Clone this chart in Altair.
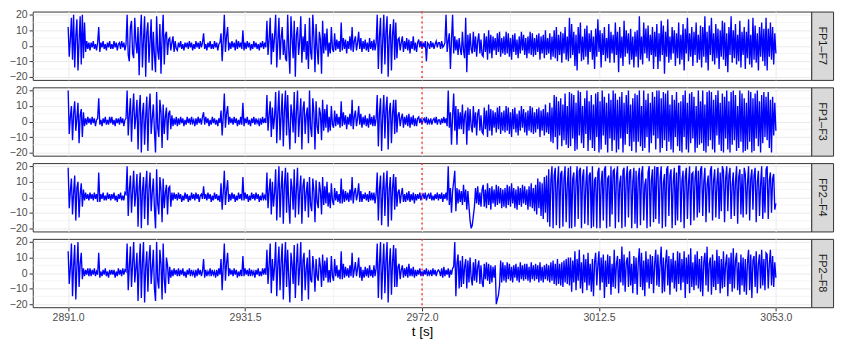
import altair as alt
import pandas as pd

CHANNELS = ["FP1–F7", "FP1–F3", "FP2–F4", "FP2–F8"]
T_START = 2891.0
T_STEP = 0.25
X_TICKS = [2891.0, 2931.5, 2972.0, 3012.5, 3053.0]
Y_TICKS = [-20, -10, 0, 10, 20]
MARKER_T = [2972.0]

FP1_F7 = [
    12, -7, 4, 18, -9, 20, -14, 6, 17, -16, 3, 19, -12, 20, -8, 15, -4, 3, -2, 2,
    -3, 2, -1, 3, -2, 1, -3, 2, 12, -4, 2, -1, 3, -2, 1, -3, 2, -1, 3, -2,
    1, -2, 3, -1, 2, -3, 1, 2, -2, 3, -1, 2, -3, 1, 20, -6, -10, 12, 16, -5,
    -8, 18, 2, -5, 12, -19, 6, 20, -14, 4, 19, -20, 8, 15, -11, 3, 17, -16, 9, -6,
    -17, 19, -3, -9, 14, -18, 5, 20, -12, 7, 9, -6, 4, 5, -3, 2, 6, -4, 3, -2,
    -3, 2, -1, 3, -2, 1, -3, 2, -1, 2, -2, 3, -1, 2, -3, 1, -2, 3, -1, 2,
    -2, 3, -1, 2, 8, -2, 1, -3, 2, -1, 3, -2, 1, -2, 3, -1, 2, -3, 1, 2,
    8, -10, 3, 20, -4, 6, 12, -3, 2, -2, 3, -1, 2, -3, 4, -2, 3, -1, 2, -2,
    10, -3, 2, -2, 3, -1, 2, -3, 1, -2, 3, -1, 2, -2, 1, -3, 2, -1, 3, -2,
    2, -1, 16, -6, 4, 18, -12, 8, -4, 6, 20, -14, 3, 18, -9, 5, 12, -6, 4, -8,
    -10, 20, -3, -18, 19, 5, -8, 16, -20, 7, 12, -6, 3, 19, -11, 6, -4, 14, -9, 3,
    -15, 18, -4, -9, 20, 6, -17, 14, -2, -12, 9, 4, -18, 16, -5, 8, -3, 11, -7, 2,
    -5, 12, -2, -4, 8, -3, 4, -2, 3, -4, 15, -3, 5, -2, 4, -5, 3, -2, 6, -3,
    12, -4, 3, 6, -3, 2, 9, -2, 5, -4, 3, -2, 4, -3, 2, -4, 5, -2, 3, -3,
    4, -3, 2, 20, -15, 6, 18, -18, 3, 20, -12, 9, 19, -20, 5, 14, -16, 7, 17, -9,
    15, -8, 4, 5, -3, 2, 6, -4, 3, -2, 5, -3, 4, -5, 3, -2, 6, -3, 2, -4,
    2, 4, -1, 3, -2, 2, -1, 3, -10, 2, 1, -2, 3, -1, 2, -2, 1, 3, -1, 2,
    2, -2, 3, -1, 0, 2, 20, -4, 3, 8, -15, 4, 20, -5, 6, -3, 4, -6, 5, -2,
    -6, 9, -3, -8, 18, -17, 7, -6, 8, -2, -5, 9, -4, 6, -7, 3, 8, -5, 4, -6,
    -7, 8, -4, 6, -9, 10, -5, 7, -8, 6, -3, 5, -6, 8, -4, 9, -7, 5, -5, 6,
    -6, 9, -5, 8, -7, 5, -9, 7, -4, 8, -6, 4, -8, 6, -5, 9, -3, 7, -6, 5,
    -8, 6, -5, 9, -6, 8, -7, 5, -6, 7, -4, 8, -9, 6, -5, 7, -8, 10, -6, 5,
    -5, 8, -9, 6, -7, 10, -8, 12, -10, 7, -6, 9, -11, 8, -5, 12, -9, 6, -10, 18,
    -8, 14, -6, 9, -13, 7, -16, 12, -5, 15, -10, 6, -9, 11, -7, 13, -12, 8, -4, 10,
    -9, 6, -15, 11, -7, 17, -4, 10, -14, 8, -6, 12, -10, 5, -8, 14, -11, 9, -5, 7,
    -11, 15, -6, 9, -17, 12, -8, 6, -13, 16, -7, 10, -5, 8, -12, 11, -9, 6, -14, 9,
    -7, 10, -14, 19, -9, 6, -12, 15, -5, 11, -8, 13, -10, 7, -6, 12, -15, 9, -7, 14,
    -15, 8, -10, 16, -6, 13, -18, 9, -7, 17, -11, 6, -9, 12, -5, 10, -13, 8, -8, 15,
    -12, 7, -9, 14, -16, 11, -5, 18, -10, 8, -7, 12, -13, 9, -6, 15, -11, 7, -9, 13,
    -14, 12, -7, 19, -11, 9, -16, 13, -6, 18, -10, 8, -12, 14, -8, 11, -15, 10, -7, 16,
    -9, 15, -13, 8, -17, 12, -6, 19, -11, 10, -8, 14, -12, 7, -10, 16, -14, 9, -6, 12,
    -15, 9, -8, 17, -12, 7, -14, 18, -9, 13, -11, 8, -16, 12, -7, 15, -10, 11, -13, 18,
    -16, 11, -7, 15, -9, 12, -12, 8, -5,
]

FP1_F3 = [
    20, -8, 3, 10, -12, 5, 13, -6, 2, 12, -14, 4, 8, -10, 6, -3, 2, -2, 3, -1,
    2, -2, 3, -1, 2, -3, 1, 2, 15, -2, 1, -3, 2, -1, 3, -2, 1, -2, 3, -1,
    3, -2, 1, -3, 2, -1, 2, -2, 3, -1, 2, -3, 1, 2, 20, -9, 4, 15, -13, 6,
    18, -5, 3, 14, -18, 7, 17, -20, 5, 12, -15, 3, 16, -19, 8, 18, -8, 2, 11, -6,
    -20, 19, -4, -10, 14, 6, -17, 11, -8, 3, 9, -12, 5, 7, -5, 4, -3, 2, -2, 3,
    -3, 2, -2, 3, -1, 2, -3, 1, -2, 3, -1, 2, -2, 3, -1, 1, -3, 2, -2, 3,
    -1, 2, -2, 3, 6, -2, 3, -1, 2, -3, 1, -2, 3, -1, 2, -2, 1, -3, 2, -1,
    7, -9, 3, 18, -4, 5, 10, -2, 3, -1, 2, -2, 3, -1, 2, -3, 1, -2, 3, -2,
    12, -3, 2, -1, 3, -2, 1, -3, 2, -1, 3, -2, 2, -1, 1, -3, 2, -2, 3, -1,
    2, -1, 17, -6, 4, 13, -10, 9, -5, 3, 19, -14, 6, 20, -12, 4, 18, -16, 7, 20,
    -9, 17, -3, -18, 11, 5, -7, 19, -14, 6, 20, -10, 3, 15, -18, 8, 13, -8, 4, 9,
    -14, 20, -4, -10, 15, 6, -18, 13, -3, -8, 9, 5, -12, 14, -6, 8, -4, 11, -7, 3,
    -6, 10, -2, -4, 7, -3, 5, -2, 3, -4, 13, -3, 6, -2, 4, -5, 3, -2, 5, -3,
    14, -5, 3, 7, -3, 2, 10, -2, 5, -4, 3, -2, 4, -3, 2, -4, 5, -2, 3, -3,
    4, -3, 2, 17, -16, 5, 15, -19, 4, 17, -11, 8, 16, -18, 6, 12, -14, 5, 14, -8,
    14, -7, 4, 6, -3, 2, 5, -4, 3, -2, 4, -3, 5, -4, 3, -2, 4, -3, 2, -3,
    2, 3, -1, 2, -2, 1, 2, -1, 3, -2, 1, -1, 2, -2, 1, 2, -1, 3, -2, 1,
    1, -2, 2, -1, 3, -1, 2, -3, 20, -4, 6, -15, 4, 18, -6, 10, -15, 8, -5, 6,
    -5, 11, -8, 4, 7, -15, 9, -6, 8, -3, -7, 10, -4, 6, -9, 5, 8, -6, 4, -7,
    -8, 9, -5, 7, -10, 11, -6, 8, -9, 7, -4, 6, -7, 9, -5, 10, -8, 6, -6, 7,
    -7, 10, -6, 9, -8, 6, -10, 8, -5, 9, -7, 5, -9, 7, -6, 10, -4, 8, -7, 6,
    -9, 7, -6, 10, -7, 9, -8, 6, -7, 8, -5, 9, -10, 7, -6, 8, -9, 11, -7, 6,
    -8, 12, -13, 9, -14, 17, -10, 16, -18, 13, -9, 15, -16, 11, -12, 18, -15, 10, -17, 19,
    -16, 18, -11, 17, -19, 12, -18, 20, -9, 19, -14, 10, -17, 15, -8, 20, -19, 13, -12, 17,
    -17, 11, -19, 18, -10, 19, -20, 13, -18, 20, -9, 16, -15, 12, -20, 18, -11, 14, -19, 20,
    -12, 18, -20, 14, -18, 16, -11, 19, -20, 12, -15, 17, -8, 20, -16, 11, -19, 15, -13, 18,
    -20, 17, -13, 20, -16, 10, -19, 20, -17, 14, -10, 18, -20, 12, -14, 19, -9, 16, -18, 20,
    -11, 20, -20, 15, -17, 19, -12, 18, -19, 20, -13, 11, -18, 17, -20, 14, -10, 19, -16, 12,
    -19, 13, -20, 17, -10, 20, -18, 12, -20, 18, -14, 19, -11, 16, -20, 10, -17, 20, -15, 13,
    -14, 20, -19, 11, -20, 19, -16, 20, -12, 19, -18, 14, -20, 17, -9, 20, -15, 12, -19, 18,
    -20, 16, -11, 20, -18, 13, -20, 19, -15, 20, -12, 17, -19, 10, -17, 20, -13, 18, -20, 15,
    -19, 12, -18, 20, -13, 19, -20, 15, -19, 18, -11, 20, -16, 13, -20, 17, -14, 19, -10, 16,
    -12, 19, -17, 14, -20, 16, -9, 12, -6,
]

FP2_F4 = [
    19, -7, 4, 12, -11, 3, 14, -15, 6, 10, -13, 2, 9, -6, 5, -2, 3, -1, 2, -2,
    3, -1, 2, -2, 3, -1, 2, -3, 16, -3, 2, -1, 3, -2, 1, -2, 3, -1, 2, -2,
    2, -1, 3, -2, 1, -3, 2, -1, 3, -2, 1, -2, 3, 2, 20, -12, 5, 14, -10, 4,
    17, -6, 3, 15, -19, 6, 16, -20, 4, 13, -14, 7, 17, -18, 5, 16, -9, 3, 12, -7,
    -20, 18, -4, -11, 13, 5, -16, 12, -7, 3, 8, -11, 6, 7, -6, 3, -2, 3, -1, 2,
    -2, 3, -1, 2, -3, 1, -2, 3, -1, 2, -3, 1, -2, 3, -1, 2, -2, 3, -1, 2,
    -3, 1, 2, -1, 7, -1, 2, -2, 3, -1, 2, -3, 1, -2, 3, -1, 2, -2, 1, -3,
    9, -8, 3, 17, -5, 4, 11, -3, 2, -2, 3, -1, 2, -3, 1, -2, 3, -1, 2, -2,
    13, -2, 3, -1, 2, -3, 1, -2, 3, -1, 2, -2, 3, -1, 2, -3, 1, -2, 3, -1,
    1, -2, 16, -7, 4, 12, -11, 10, -6, 3, 18, -15, 5, 20, -13, 6, 17, -17, 8, 19,
    -10, 16, -4, -17, 12, 6, -8, 18, -13, 5, 19, -11, 4, 14, -17, 7, 12, -9, 3, 10,
    -13, 13, -5, -9, 12, 4, -16, 11, -3, -7, 10, 4, -11, 13, -5, 7, -4, 10, -6, 3,
    -7, 9, -2, -5, 6, -2, 4, -3, 2, -4, 12, -4, 5, -3, 4, -2, 3, -3, 5, -2,
    13, -4, 3, 6, -2, 2, 9, -3, 4, -3, 2, -1, 3, -2, 2, -3, 4, -2, 3, -2,
    3, -4, 2, 16, -15, 5, 14, -18, 4, 16, -12, 7, 17, -19, 5, 13, -15, 6, 15, -8,
    13, -6, 3, 5, -4, 2, 6, -3, 2, -3, 3, -2, 4, -3, 2, -2, 3, -4, 2, -2,
    2, -1, 3, -2, 1, 2, -1, 3, -2, 1, 2, -1, 3, -2, 1, -2, 2, -1, 3, -2,
    2, -1, 3, -3, 2, -1, 3, -2, 20, -5, 6, -10, 4, 10, 17, -9, 6, -4, 5, -3,
    4, -5, 8, -3, 5, -8, 4, -6, -15, -20, -18, -12, -6, 6, -4, 7, -5, 3, -6, 5,
    8, -6, 5, -7, 9, -5, 6, -8, 7, -4, 5, -6, 8, -5, 7, -4, 6, -7, 5, -6,
    6, -7, 8, -5, 7, -6, 9, -4, 6, -7, 5, -8, 7, -5, 6, -6, 8, -4, 7, -5,
    5, -8, 7, -6, 9, -7, 6, -9, 8, -11, 12, -7, 10, -12, 9, -14, 13, -10, 14, -16,
    18, -19, 11, 20, -20, 14, 19, -18, 9, 20, -20, 15, 17, -19, 12, 20, -16, 8, 19, -20,
    20, -20, 12, 16, -19, 10, 20, -14, 17, 19, -20, 13, 18, -17, 8, 20, -18, 14, 16, -20,
    20, -19, 11, 13, -20, 16, 19, -20, 9, 17, -15, 18, 20, -20, 12, 14, -19, 20, -11, 17,
    18, -20, 14, 20, -16, 9, 14, -20, 17, 19, -19, 12, 20, -13, 16, 18, -20, 10, 19, -17,
    17, -20, 13, 19, -18, 15, 20, -15, 8, 12, -20, 16, 20, -19, 11, 18, -16, 20, -14, 19,
    19, -17, 12, 20, -20, 9, 15, -19, 18, 20, -12, 14, 18, -20, 10, 19, -18, 16, -15, 20,
    20, -16, 11, 17, -20, 13, 19, -14, 9, 20, -18, 15, 16, -15, 12, 20, -13, 17, -10, 18,
    20, -12, 10, 19, -16, 8, 14, -10, 17, 20, -15, 11, 18, -13, 9, 19, -14, 16, -9, 20,
    17, -16, 12, 20, -9, 14, 19, -14, 8, 16, -12, 10, 20, -17, 13, 18, -11, 15, -13, 19,
    15, -11, 9, 20, -15, 12, 18, -8, 14, 19, -16, 10, 17, -12, 8, 20, -14, 13, -10, 18,
    20, -14, 11, 16, -10, 12, 15, -8, -4,
]

FP2_F8 = [
    14, -7, 3, 19, -15, 5, 18, -17, 4, 20, -9, 6, 13, -4, 3, -2, 2, -1, 3, -2,
    3, -2, 2, -1, 3, -2, 1, -1, 13, -3, 1, -2, 2, -1, 3, -2, 1, -3, 2, -1,
    2, -1, 2, -3, 1, -2, 3, -1, 2, -2, 3, -1, 2, 1, 19, -11, 4, 17, -9, 6,
    20, -6, 3, 13, -18, 5, 19, -16, 7, 20, -19, 4, 14, -12, 8, 18, -7, 3, 15, -10,
    -18, 20, -5, -10, 15, 6, -17, 19, -4, -13, 10, 5, -7, 4, -3, 2, -2, 3, -1, 2,
    -2, 3, -2, 2, -1, 3, -2, 1, -3, 2, -1, 3, -2, 2, -1, 1, -3, 2, -2, 3,
    -1, 2, -2, 1, 9, -3, 2, -2, 1, -1, 3, -2, 2, -1, 1, -3, 2, -2, 3, -1,
    9, -11, 4, 19, -5, 6, 13, -2, 3, -1, 2, -2, 3, -1, 2, -3, 1, -2, 2, -2,
    11, -2, 3, -1, 2, -2, 3, -2, 2, -1, 1, -3, 2, -1, 3, -2, 1, -2, 3, -1,
    3, -1, 15, -7, 5, 19, -13, 9, -5, 4, 20, -15, 6, 17, -11, 7, 19, -17, 5, 20,
    -9, 15, -3, -19, 13, 6, -7, 18, -16, 5, 19, -8, 4, 20, -18, 8, 13, -11, 3, 10,
    -17, 15, -4, -6, 11, 3, -12, 9, -2, -5, 10, 4, -9, 12, -5, 8, -3, 10, -6, 2,
    -6, 11, -2, -5, 9, -2, 5, -3, 2, -4, 14, -4, 6, -3, 4, -2, 3, -3, 5, -2,
    13, -3, 2, 7, -2, 3, 10, -3, 4, -5, 2, -3, 4, -2, 3, -3, 5, -2, 2, -3,
    5, -2, 3, 19, -16, 6, 20, -17, 4, 19, -13, 8, 20, -19, 5, 16, -14, 7, 18, -9,
    16, -9, 4, 6, -4, 2, 5, -3, 3, -2, 4, -3, 6, -2, 3, -2, 4, -3, 2, -2,
    2, -1, 3, -2, 1, -2, 2, -1, 3, -2, 1, -1, 2, -2, 3, -1, 2, -2, 1, 2,
    1, -2, 3, -3, 4, -2, 2, -1, 3, -3, 2, -1, 3, 4, 20, -15, 6, 12, -10, 8,
    -9, 11, -7, 4, 9, -10, 8, -6, 10, -3, -8, 7, -5, 9, -6, 4, 8, -7, 5, -6,
    -9, 6, -4, 7, -5, 6, -7, 5, -6, 4, -3, 5, -20, -17, -14, -8, 8, -6, 7, -5,
    5, -6, 7, -4, 6, -5, 4, -6, 5, -3, 6, -5, 4, -6, 7, -4, 5, -5, 6, -4,
    6, -5, 4, -6, 7, -4, 5, -5, 6, -4, 5, -6, 7, -5, 4, -6, 5, -4, 6, -5,
    5, -6, 7, -5, 8, -7, 6, -8, 9, -7, 6, -8, 7, -9, 8, -6, 9, -7, 10, -8,
    10, -12, 8, -6, 14, -11, 9, -5, 15, -10, 7, -13, 12, -6, 9, -11, 13, -8, 6, -12,
    9, -15, 7, 13, -8, 5, 14, -11, 10, -6, 12, -16, 8, -9, 12, -7, 11, -14, 6, -9,
    15, -10, 6, 11, -13, 9, -6, 17, -8, 12, -12, 7, 10, -9, 14, -8, 6, -13, 11, -7,
    10, -14, 7, 16, -9, 13, -11, 8, -15, 14, -6, 9, -10, 12, -7, 11, -13, 6, 15, -8,
    12, -9, 6, 17, -13, 10, -12, 7, 15, -8, 11, -14, 9, -6, 13, -10, 8, -12, 14, -7,
    13, -11, 9, -6, 14, -16, 10, -7, 12, -13, 16, -9, 7, -11, 12, -8, 14, -10, 9, -12,
    11, -15, 7, 13, -8, 17, -12, 6, 10, -14, 12, -9, 8, -11, 15, -7, 11, -13, 9, -10,
    14, -9, 6, 12, -15, 10, -7, 13, -12, 16, -10, 8, 13, -11, 7, -14, 12, -8, 10, -12,
    9, -14, 7, 15, -11, 12, -16, 8, 11, -9, 14, -13, 6, 12, -10, 15, -8, 9, -11, 13,
    12, -10, 6, 15, -8, 11, -9, 7, -3,
]

SERIES = [FP1_F7, FP1_F3, FP2_F4, FP2_F8]

FONT = "Liberation Sans"
PANEL_W = 786
PANEL_H = 69
STRIP_W = 22
X_DOMAIN = [X_TICKS[0] - 0.05 * (X_TICKS[-1] - X_TICKS[0]),
            X_TICKS[-1] + 0.05 * (X_TICKS[-1] - X_TICKS[0])]
Y_DOMAIN = [-22, 22]
MINOR_X = [(a + b) / 2 for a, b in zip(X_TICKS[:-1], X_TICKS[1:])]
MINOR_Y = [(a + b) / 2 for a, b in zip(Y_TICKS[:-1], Y_TICKS[1:])]


def panel(vals, bottom):
    df = pd.DataFrame({"t": [T_START + T_STEP * i for i in range(len(vals))], "v": vals})
    common = dict(values=X_TICKS, grid=True, gridColor="#EBEBEB", gridWidth=1.0,
                  domain=False)
    if bottom:
        xaxis = alt.Axis(format=".1f", title="t [s]", titleFont=FONT, titleFontSize=13.5,
                         titleFontWeight="normal", titleColor="#000000", titlePadding=1,
                         labelFont=FONT, labelFontSize=10.6, labelColor="#4D4D4D",
                         labelPadding=2, tickColor="#333333", tickSize=3.7, tickWidth=1,
                         **common)
    else:
        xaxis = alt.Axis(labels=False, ticks=False, title=None, **common)
    yaxis = alt.Axis(values=Y_TICKS, title=None, grid=True, gridColor="#EBEBEB", gridWidth=1.0,
                     domain=False, labelFont=FONT, labelFontSize=10.6, labelColor="#4D4D4D",
                     labelPadding=2, tickColor="#333333", tickSize=3.7, tickWidth=1)
    X = alt.X("t:Q", scale=alt.Scale(domain=X_DOMAIN, nice=False, zero=False), axis=xaxis)
    Y = alt.Y("v:Q", scale=alt.Scale(domain=Y_DOMAIN, nice=False, zero=False), axis=yaxis)

    minor_x = alt.Chart(pd.DataFrame({"t": MINOR_X})).mark_rule(
        color="#EBEBEB", strokeWidth=0.55).encode(x=X)
    minor_y = alt.Chart(pd.DataFrame({"v": MINOR_Y})).mark_rule(
        color="#EBEBEB", strokeWidth=0.55).encode(y=Y)
    line = alt.Chart(df).mark_line(color="#0000FF", strokeWidth=1.35).encode(x=X, y=Y)
    marker = alt.Chart(pd.DataFrame({"t": MARKER_T})).mark_rule(
        color="#FF0000", strokeDash=[2, 3], strokeWidth=1.1).encode(x=X)
    return alt.layer(minor_x, minor_y, line, marker).properties(width=PANEL_W, height=PANEL_H)


def strip(name):
    return alt.Chart(pd.DataFrame({"ch": [name]})).mark_text(
        angle=90, font=FONT, fontSize=11, color="#1A1A1A", align="center", baseline="middle"
    ).encode(
        text="ch:N", x=alt.value(STRIP_W / 2), y=alt.value(PANEL_H / 2)
    ).properties(
        width=STRIP_W, height=PANEL_H,
        view=alt.ViewBackground(fill="#D9D9D9", stroke="#333333", strokeWidth=1),
    )


rows = []
for k, (name, vals) in enumerate(zip(CHANNELS, SERIES)):
    rows.append(alt.hconcat(panel(vals, k == len(CHANNELS) - 1), strip(name),
                            spacing=0, bounds="flush"))

chart = alt.vconcat(*rows, spacing=1.5).properties(
    padding={"left": 0, "top": -1, "right": 5, "bottom": 0},
    background="#FFFFFF",
).configure_view(stroke="#333333", strokeWidth=1)

chart.save("out.html", embed_options={"renderer": "svg", "actions": False})
